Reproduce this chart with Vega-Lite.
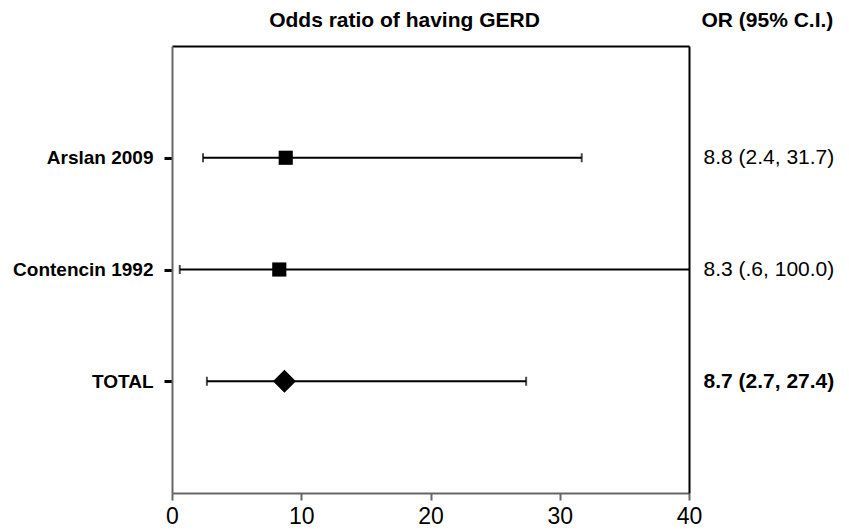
{
  "$schema": "https://vega.github.io/schema/vega-lite/v6.json",
  "width": 517,
  "height": 447,
  "autosize": {"type": "none"},
  "padding": {"left": 172, "top": 46, "right": 160, "bottom": 37},
  "background": "white",
  "config": {
    "view": {"stroke": null},
    "font": "Liberation Sans",
    "axis": {"grid": false}
  },
  "data": {
    "values": [
      {"study": "Arslan 2009", "row": 3, "or": 8.8, "lo": 2.4, "hi": 31.7, "kind": "study"},
      {"study": "Contencin 1992", "row": 2, "or": 8.3, "lo": 0.6, "hi": 100.0, "kind": "study"},
      {"study": "TOTAL", "row": 1, "or": 8.7, "lo": 2.7, "hi": 27.4, "kind": "total"}
    ]
  },
  "layer": [
    {
      "mark": {"type": "rule", "color": "black", "strokeWidth": 2, "clip": true},
      "encoding": {
        "x": {
          "field": "lo", "type": "quantitative",
          "scale": {"domain": [0, 40], "nice": false, "zero": true},
          "axis": {
            "orient": "bottom", "title": null, "values": [0, 10, 20, 30, 40],
            "domainColor": "#666", "domainWidth": 2,
            "tickColor": "#666", "tickWidth": 2, "tickSize": 7,
            "labelFontSize": 23, "labelColor": "black", "labelPadding": 5,
            "labelFlush": false
          }
        },
        "x2": {"field": "hi"},
        "y": {
          "field": "row", "type": "quantitative",
          "scale": {"domain": [0, 4], "nice": false, "zero": true},
          "axis": {
            "orient": "left", "title": null, "values": [1, 2, 3],
            "labelExpr": "datum.value == 3 ? 'Arslan 2009' : datum.value == 2 ? 'Contencin 1992' : 'TOTAL'",
            "domainColor": "#666", "domainWidth": 2,
            "tickColor": "black", "tickWidth": 3, "tickSize": 8,
            "labelFontSize": 19, "labelFontWeight": "bold", "labelColor": "black",
            "labelPadding": 11
          }
        }
      }
    },
    {
      "mark": {"type": "tick", "orient": "vertical", "color": "black", "thickness": 2, "size": 9, "clip": true},
      "encoding": {
        "x": {"field": "lo", "type": "quantitative", "axis": null},
        "y": {"field": "row", "type": "quantitative", "axis": null}
      }
    },
    {
      "mark": {"type": "tick", "orient": "vertical", "color": "black", "thickness": 2, "size": 9, "clip": true},
      "encoding": {
        "x": {"field": "hi", "type": "quantitative", "axis": null},
        "y": {"field": "row", "type": "quantitative", "axis": null}
      }
    },
    {
      "mark": {"type": "point", "filled": true, "color": "black", "opacity": 1},
      "encoding": {
        "x": {
          "field": "or", "type": "quantitative",
          "axis": {
            "orient": "top", "title": "Odds ratio of having GERD",
            "labels": false, "ticks": false,
            "domainColor": "black", "domainWidth": 2,
            "titleFontSize": 21, "titleFontWeight": "bold", "titleColor": "black",
            "titlePadding": 16, "titleX": 232
          }
        },
        "y": {
          "field": "row", "type": "quantitative",
          "axis": {
            "orient": "right", "values": [1, 2, 3],
            "labelExpr": "datum.value == 3 ? '8.8 (2.4, 31.7)' : datum.value == 2 ? '8.3 (.6, 100.0)' : '8.7 (2.7, 27.4)'",
            "labelFontWeight": {"expr": "datum.value == 1 ? 'bold' : 'normal'"},
            "labelFontSize": 21, "labelColor": "black", "labelPadding": 14,
            "ticks": false, "domainColor": "black", "domainWidth": 2,
            "title": "OR (95% C.I.)", "titleAngle": 0, "titleAlign": "left",
            "titleBaseline": "middle", "titleX": 12, "titleY": -26,
            "titleFontSize": 21, "titleFontWeight": "bold", "titleColor": "black"
          }
        },
        "shape": {
          "field": "kind", "type": "nominal",
          "scale": {"domain": ["study", "total"], "range": ["square", "diamond"]},
          "legend": null
        },
        "size": {
          "field": "kind", "type": "nominal",
          "scale": {"domain": ["study", "total"], "range": [200, 529]},
          "legend": null
        }
      }
    }
  ],
  "resolve": {"axis": {"x": "independent", "y": "independent"}}
}
